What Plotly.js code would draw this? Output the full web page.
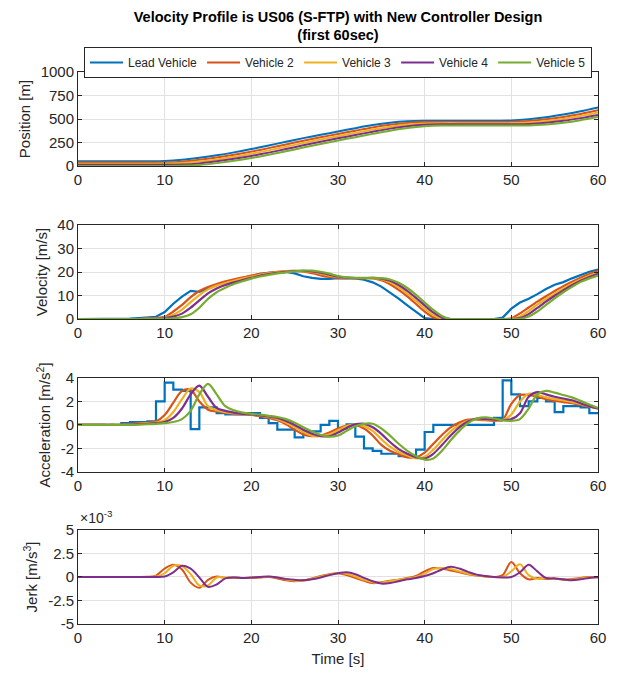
<!DOCTYPE html>
<html>
<head>
<meta charset="utf-8">
<script src="https://cdn.plot.ly/plotly-3.0.1.min.js"></script>
<style>
  html, body { margin: 0; padding: 0; background: #ffffff; }
  #chart { width: 617px; height: 673px; }
</style>
</head>
<body>
<div id="chart"></div>
<script>
// Platoon of five vehicles following a US06 (S-FTP) speed profile, first 60 s.

const vehicleNames = ['Lead Vehicle', 'Vehicle 2', 'Vehicle 3', 'Vehicle 4', 'Vehicle 5'];
const vehicleColors = ['#0072BD', '#D95319', '#EDB120', '#7E2F8E', '#77AC30'];

// sample times [s]
const posTime = [0,2,4,6,8,10,12,14,16,18,20,22,24,26,28,30,32,34,36,38,40,42,44,46,48,50,52,54,56,58,60];
const timeSec = [0,1,2,3,4,5,6,7,8,9,10,11,12,13,14,15,16,17,18,19,20,21,22,23,24,25,26,27,28,29,30,
                 31,32,33,34,35,36,37,38,39,40,41,42,43,44,45,46,47,48,49,50,51,52,53,54,55,56,57,58,59,60];

// position [m], every 2 s
const posLead = [50,50,50,50,50.4,52.9,65.4,87.6,113.8,145,179.8,218,257.9,296.5,332.1,367,402.2,435.2,460.5,476,481.1,481.2,481.2,481.2,481.2,483.8,497.1,518,546.8,581.4,621.8];
const posV2   = [37.5,37.5,37.5,37.5,37.6,38.5,46.4,65.8,90.2,119.5,152.9,190,229.4,269,305.6,340.5,375.7,410.1,438.9,458.4,467.6,468.6,468.7,468.7,468.7,468.8,478.5,496.3,522.1,554.3,592.5];
const posV3   = [25,25,25,25,25.1,25.5,30.7,46.8,70,97.9,130,166.1,204.9,244.8,282.3,317.5,352.6,387.5,418.5,440.9,453.3,456,456.1,456.1,456.1,456.2,462.2,477.8,501.2,531.7,568.2];
const posV4   = [12.5,12.5,12.5,12.5,12.6,12.9,15.4,27.9,50.1,76.3,107.5,142.3,180.5,220.4,259,294.6,329.5,364.7,397.7,423,438.5,443.6,443.7,443.7,443.7,443.7,446.3,459.6,480.5,509.3,543.9];
const posV5   = [0,0,0,0,0.1,0.2,1.8,10.7,30.6,55.5,85.3,119.1,156.4,195.9,235.2,271.6,306.5,341.7,375.7,403.7,422.2,430.3,431.1,431.1,431.1,431.2,432,442.5,461.2,487.7,520.5];

// velocity [m/s], every 1 s
const velLead = [0,0,0,0,0,0,0.15,0.4,0.65,0.95,2.95,6.5,9.5,12.0,11.6,13.1,14.6,15.6,16.5,17.4,18.4,19.2,19.6,19.9,20.0,19.4,18.2,17.5,17.1,17.1,17.4,
                 17.3,17.3,16.7,15.6,13.8,11.4,8.7,5.8,3.0,0.4,0,0,0,0,0,0,0,0,0.6,4.4,7.0,8.6,10.6,12.8,14.6,15.7,17.3,18.8,20.1,21.0];
const velV2 = [0,0,0,0,0,0,0,0,0.2,0.4,0.9,3.2,6.0,9.3,11.9,13.6,14.9,16.0,16.9,17.7,18.5,19.2,19.7,20.1,20.4,20.5,20.2,19.5,18.6,17.9,17.5,
               17.4,17.4,17.4,17.3,16.5,14.8,12.4,9.6,6.4,3.2,0.8,0,0,0,0,0,0,0,0,0.3,2.4,4.9,7.4,9.7,11.9,14.0,15.9,17.6,19.1,20.5];
const velV3 = [0,0,0,0,0,0,0,0,0.15,0.3,0.5,1.8,4.0,7.2,10.2,12.6,14.2,15.3,16.3,17.2,18.0,18.8,19.4,19.9,20.3,20.5,20.4,20.0,19.3,18.5,17.9,
               17.5,17.4,17.4,17.4,16.9,15.6,13.5,10.8,7.7,4.5,1.7,0.1,0,0,0,0,0,0,0,0.05,1.1,3.4,6.1,8.5,10.8,13.0,15.0,16.8,18.4,19.8];
const velV4 = [0,0,0,0,0,0,0,0,0.1,0.2,0.35,1.0,2.3,4.8,7.9,10.9,13.0,14.5,15.6,16.6,17.5,18.4,19.1,19.7,20.1,20.4,20.5,20.3,19.7,18.9,18.1,
               17.6,17.4,17.4,17.5,17.2,16.3,14.5,12.0,9.0,5.8,2.8,0.6,0,0,0,0,0,0,0,0,0.4,2.1,4.7,7.4,9.9,12.2,14.4,16.3,17.9,19.3];
const velV5 = [0,0,0,0,0,0,0,0,0.05,0.1,0.15,0.3,0.8,2.0,4.8,8.6,11.4,13.3,14.9,16.1,17.2,18.1,18.8,19.4,19.9,20.3,20.6,20.6,20.1,19.3,18.3,
               17.7,17.5,17.5,17.5,17.4,16.8,15.4,13.2,10.3,7.0,3.9,1.3,0,0,0,0,0,0,0,0,0.1,1.1,3.2,6.0,8.8,11.4,13.7,15.8,17.3,18.5];

// acceleration [m/s^2], every 1 s (lead vehicle is held constant over each second)
const accLead = [0,0,0,0,0,0.15,0.25,0.25,0.3,2.0,3.6,3.0,2.9,-0.35,1.5,1.5,1.0,0.9,0.9,1.0,1.0,0.6,0.15,-0.4,-0.4,-1.05,-0.55,-0.55,0.0,0.35,-0.3,
                 0.05,-1.0,-2.0,-2.2,-2.45,-2.45,-2.65,-2.65,-2.1,-0.6,0,0,0,0,0,0,0,0.6,3.8,2.6,1.6,2.0,2.3,2.0,1.1,1.6,1.6,1.5,1.0,1.0];
const accV2 = [0,0,0,0,0,0.02,0.08,0.15,0.2,0.3,0.85,1.9,2.9,3.0,2.0,1.3,1.15,1.05,0.95,0.9,0.85,0.75,0.6,0.4,0.05,-0.4,-0.8,-0.95,-0.9,-0.65,-0.3,
               -0.05,0.0,-0.3,-0.9,-1.7,-2.2,-2.5,-2.75,-2.75,-2.35,-1.6,-0.85,-0.2,0.2,0.45,0.45,0.4,0.35,0.45,1.8,2.55,2.55,2.4,2.2,2.05,1.95,1.85,1.7,1.55,1.4];
const accV3 = [0,0,0,0,0,0.01,0.05,0.1,0.15,0.2,0.4,1.1,2.2,3.1,2.8,1.6,1.25,1.1,1.0,0.92,0.88,0.8,0.68,0.5,0.2,-0.15,-0.6,-0.9,-0.95,-0.8,-0.45,
               -0.1,0.05,-0.1,-0.5,-1.2,-1.85,-2.3,-2.6,-2.85,-2.7,-2.1,-1.3,-0.55,0.0,0.35,0.5,0.45,0.4,0.4,0.9,2.0,2.65,2.55,2.35,2.2,2.1,1.95,1.8,1.6,1.4];
const accV4 = [0,0,0,0,0,0,0.03,0.07,0.1,0.15,0.25,0.6,1.4,2.6,3.35,2.4,1.45,1.2,1.05,0.95,0.9,0.82,0.72,0.6,0.35,0.0,-0.4,-0.75,-0.95,-0.95,-0.65,
               -0.25,0.05,0.1,-0.2,-0.75,-1.45,-2.05,-2.45,-2.75,-2.85,-2.45,-1.7,-0.9,-0.2,0.3,0.55,0.5,0.45,0.4,0.5,1.0,2.4,2.8,2.6,2.4,2.25,2.1,1.85,1.6,1.4];
const accV5 = [0,0,0,0,0,0,0,0.03,0.06,0.1,0.15,0.25,0.5,1.2,2.6,3.5,2.6,1.6,1.25,1.05,0.95,0.88,0.78,0.68,0.5,0.2,-0.2,-0.55,-0.85,-1.0,-0.9,
               -0.5,-0.1,0.1,0.1,-0.3,-0.9,-1.6,-2.2,-2.65,-2.95,-2.85,-2.2,-1.3,-0.5,0.15,0.55,0.65,0.55,0.4,0.35,0.5,1.4,2.6,2.9,2.75,2.55,2.35,2.05,1.75,1.45];

// jerk [x10^-3 m/s^3], every 1 s
const jerkV2 = [0,0,0,0,0,0,0,0,0.02,0.15,0.9,1.3,0.8,-0.6,-1.15,-0.3,0.05,-0.1,-0.05,-0.1,-0.1,-0.05,0.0,-0.15,-0.35,-0.45,-0.35,-0.15,0.1,0.3,0.4,
                0.2,-0.1,-0.4,-0.65,-0.55,-0.4,-0.3,-0.1,0.1,0.6,0.95,0.9,0.7,0.5,0.3,0.15,0.05,0.0,0.2,1.6,0.4,-0.25,-0.1,-0.2,-0.15,-0.3,-0.2,-0.1,0.0,-0.05];
const jerkV3 = [0,0,0,0,0,0,0,0,0,0.05,0.4,1.2,1.15,0.3,-0.9,-0.9,-0.05,-0.05,-0.05,-0.1,-0.05,-0.02,0.02,-0.05,-0.25,-0.4,-0.4,-0.2,0.05,0.25,0.42,
                0.35,0.05,-0.3,-0.55,-0.6,-0.45,-0.3,-0.15,0.0,0.35,0.85,0.95,0.85,0.6,0.35,0.2,0.05,0.0,0.0,0.6,1.35,0.2,-0.2,-0.1,-0.2,-0.25,-0.3,-0.15,-0.05,0.0];
const jerkV4 = [0,0,0,0,0,0,0,0,0,0,0.05,0.5,1.2,0.9,-0.05,-1.05,-0.8,-0.15,-0.05,-0.1,-0.05,0.0,0.05,-0.05,-0.2,-0.3,-0.35,-0.25,-0.05,0.2,0.4,
                0.5,0.3,-0.1,-0.45,-0.7,-0.65,-0.45,-0.25,-0.1,0.1,0.4,0.8,1.08,0.9,0.55,0.25,0.1,0.0,-0.05,0.0,0.5,1.3,0.6,-0.1,-0.15,-0.25,-0.35,-0.25,-0.1,0.0];

// tick labels
const xTicks = [0, 10, 20, 30, 40, 50, 60];
const posTicks = [0, 250, 500, 750, 1000];
const velTicks = [0, 10, 20, 30, 40];
const accTicks = [-4, -2, 0, 2, 4];
const jerkTicks = [-5, -2.5, 0, 2.5, 5];

const posSeries = [posLead, posV2, posV3, posV4, posV5];
const velSeries = [velLead, velV2, velV3, velV4, velV5];
const accSeries = [accLead, accV2, accV3, accV4, accV5];
const jerkSeries = [jerkV2, jerkV3, jerkV4];

const traces = [];
posSeries.forEach((y, i) => traces.push({
  x: posTime, y: y, type: 'scatter', mode: 'lines', name: vehicleNames[i],
  line: { color: vehicleColors[i], width: 2, shape: 'spline', smoothing: 0.8 },
  xaxis: 'x', yaxis: 'y', showlegend: true
}));
velSeries.forEach((y, i) => traces.push({
  x: timeSec, y: y, type: 'scatter', mode: 'lines', name: vehicleNames[i],
  line: { color: vehicleColors[i], width: 2.2, shape: i === 0 ? 'linear' : 'spline', smoothing: 0.7 },
  xaxis: 'x2', yaxis: 'y2', showlegend: false
}));
accSeries.forEach((y, i) => traces.push({
  x: timeSec, y: y, type: 'scatter', mode: 'lines', name: vehicleNames[i],
  line: { color: vehicleColors[i], width: 2.2, shape: i === 0 ? 'hv' : 'spline', smoothing: 0.9 },
  xaxis: 'x3', yaxis: 'y3', showlegend: false
}));
jerkSeries.forEach((y, i) => traces.push({
  x: timeSec, y: y, type: 'scatter', mode: 'lines', name: vehicleNames[i + 1],
  line: { color: vehicleColors[i + 1], width: 2, shape: 'spline', smoothing: 0.9 },
  xaxis: 'x4', yaxis: 'y4', showlegend: false
}));

const ink = '#262626';
const fontFamily = 'Liberation Sans, Arial, Helvetica, sans-serif';

function xAxis(anchor, withTitle) {
  const ax = {
    anchor: anchor, domain: [0, 1], range: [0, 60],
    tickmode: 'array', tickvals: xTicks, ticktext: xTicks.map(String),
    showline: true, mirror: 'ticks', linecolor: ink, linewidth: 1,
    ticks: 'inside', ticklen: 4, tickcolor: ink,
    showgrid: true, gridcolor: '#e2e2e2', gridwidth: 1, zeroline: false,
    tickfont: { size: 15, color: ink, family: fontFamily }
  };
  if (withTitle) ax.title = { text: 'Time [s]', font: { size: 15, color: ink, family: fontFamily }, standoff: 8 };
  return ax;
}
function yAxis(anchor, domain, range, ticks, label) {
  return {
    anchor: anchor, domain: domain, range: range,
    tickmode: 'array', tickvals: ticks, ticktext: ticks.map(String),
    showline: true, mirror: 'ticks', linecolor: ink, linewidth: 1,
    ticks: 'inside', ticklen: 4, tickcolor: ink,
    showgrid: true, gridcolor: '#e2e2e2', gridwidth: 1, zeroline: false,
    tickfont: { size: 15, color: ink, family: fontFamily },
    title: { text: label, font: { size: 15, color: ink, family: fontFamily }, standoff: 6 }
  };
}

const layout = {
  width: 617, height: 673,
  margin: { l: 78, r: 19, t: 72, b: 49, pad: 0 },
  paper_bgcolor: '#ffffff', plot_bgcolor: '#ffffff',
  font: { family: fontFamily, color: ink },
  title: {
    text: '<b>Velocity Profile is US06 (S-FTP) with New Controller Design</b><br><b>(first 60sec)</b>',
    font: { size: 14.5, color: '#000000', family: fontFamily },
    x: 0.5, xref: 'paper', xanchor: 'center', y: 0.968, yref: 'container', yanchor: 'middle'
  },
  showlegend: true,
  legend: {
    orientation: 'h', x: 0.5, xanchor: 'center',
    y: 1.0453, yanchor: 'top',
    bordercolor: ink, borderwidth: 1, bgcolor: '#ffffff',
    font: { size: 12, color: ink, family: fontFamily },
    tracegroupgap: 0, itemwidth: 33
  },
  xaxis: xAxis('y', false),
  yaxis: yAxis('x', [0.8297, 1], [0, 1000], posTicks, 'Position [m]'),
  xaxis2: xAxis('y2', false),
  yaxis2: yAxis('x2', [0.5525, 0.7228], [0, 40], velTicks, 'Velocity [m/s]'),
  xaxis3: xAxis('y3', false),
  yaxis3: yAxis('x3', [0.2754, 0.4457], [-4, 4], accTicks, 'Acceleration [m/s<sup>2</sup>]'),
  xaxis4: xAxis('y4', true),
  yaxis4: yAxis('x4', [0, 0.1703], [-5, 5], jerkTicks, 'Jerk [m/s<sup>3</sup>]'),
  annotations: [{
    text: '\u00d710<sup>-3</sup>', xref: 'paper', yref: 'paper', x: 0, y: 0.1703,
    xanchor: 'left', yanchor: 'bottom', yshift: 2, showarrow: false,
    font: { size: 14, color: ink, family: fontFamily }
  }]
};

Plotly.newPlot('chart', traces, layout, { staticPlot: true, displayModeBar: false });
</script>
</body>
</html>
